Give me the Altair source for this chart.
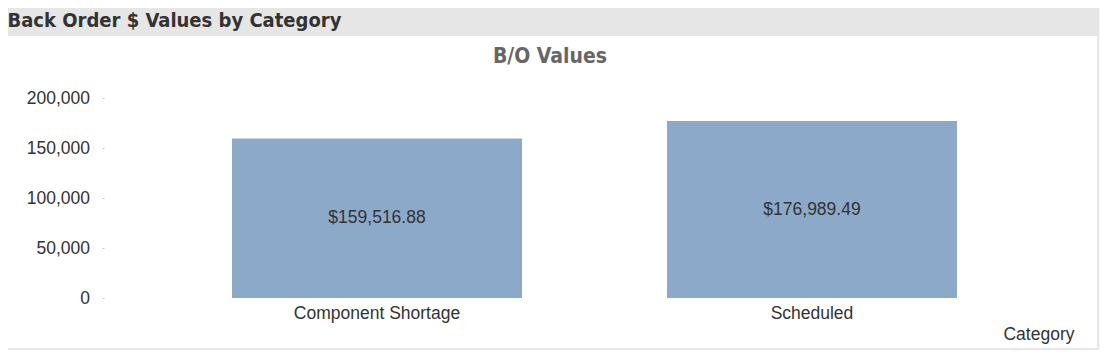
import altair as alt
import pandas as pd

categories = ["Component Shortage", "Scheduled"]
values = [159516.88, 176989.49]
y_ticks = [0, 50000, 100000, 150000, 200000]
header_text = "Back Order $ Values by Category"
chart_title = "B/O Values"
x_title = "Category"

df = pd.DataFrame({"Category": categories, "Value": values})
one = pd.DataFrame({"k": [0]})

W, H = 981, 200
LABEL_FONT = "Liberation Sans, Arial"
HEAD_FONT = "DejaVu Sans Condensed, DejaVu Sans"
TXT = "#333333"
FS = 17.5

frame = alt.Chart(one).mark_rect(color="#e6e6e6").encode(
    x=alt.value(-96), x2=alt.value(995), y=alt.value(-90), y2=alt.value(252))
panel = alt.Chart(one).mark_rect(color="#ffffff").encode(
    x=alt.value(-96), x2=alt.value(993), y=alt.value(-62), y2=alt.value(250))
header = alt.Chart(one).mark_text(
    text=header_text, align="left", baseline="alphabetic", font=HEAD_FONT,
    fontSize=20, fontWeight="bold", color=TXT
).encode(x=alt.value(-96.5), y=alt.value(-70.7))
title = alt.Chart(one).mark_text(
    text=chart_title, align="center", baseline="alphabetic", font=HEAD_FONT,
    fontSize=21, fontWeight="bold", color="#666666"
).encode(x=alt.value(446), y=alt.value(-35.3))

x_enc = alt.X(
    "Category:N", sort=categories,
    scale=alt.Scale(paddingInner=1 / 3, paddingOuter=0.2943),
    axis=alt.Axis(
        title=x_title, ticks=False, domain=False, labelAngle=0, labelPadding=6,
        labelFontSize=FS, labelColor=TXT, labelFont=LABEL_FONT,
        titleFont=LABEL_FONT, titleFontSize=FS, titleFontWeight="normal",
        titleColor=TXT, titleX=970, titleY=41.5, titleAlign="right",
        titleBaseline="alphabetic", zindex=1,
    ),
)
y_enc = alt.Y(
    "Value:Q",
    scale=alt.Scale(domain=[0, 200000], nice=False),
    axis=alt.Axis(
        title=None, values=y_ticks, format=",d", grid=False, domain=False,
        tickSize=2, tickColor="#c8c8c8", labelPadding=12.5,
        labelFontSize=FS, labelColor=TXT, labelFont=LABEL_FONT, zindex=1,
    ),
)

bars = alt.Chart(df).mark_bar(color="#8ca9c9").encode(x=x_enc, y=y_enc)
labels = alt.Chart(df).transform_calculate(mid="datum.Value / 2").mark_text(
    baseline="middle", align="center", font=LABEL_FONT, fontSize=FS, color=TXT
).encode(
    x=alt.X("Category:N", sort=categories),
    y=alt.Y("mid:Q"),
    text=alt.Text("Value:Q", format="$,.2f"),
)

chart = alt.layer(frame, panel, header, title, bars, labels).properties(
    width=W, height=H,
    padding={"left": 96, "top": 90, "right": 15, "bottom": 52},
    autosize=alt.AutoSizeParams(type="none"),
    background="#f7f7f7",
).configure_view(stroke=None)

chart.save("out.html", embed_options={"renderer": "svg", "actions": False})
